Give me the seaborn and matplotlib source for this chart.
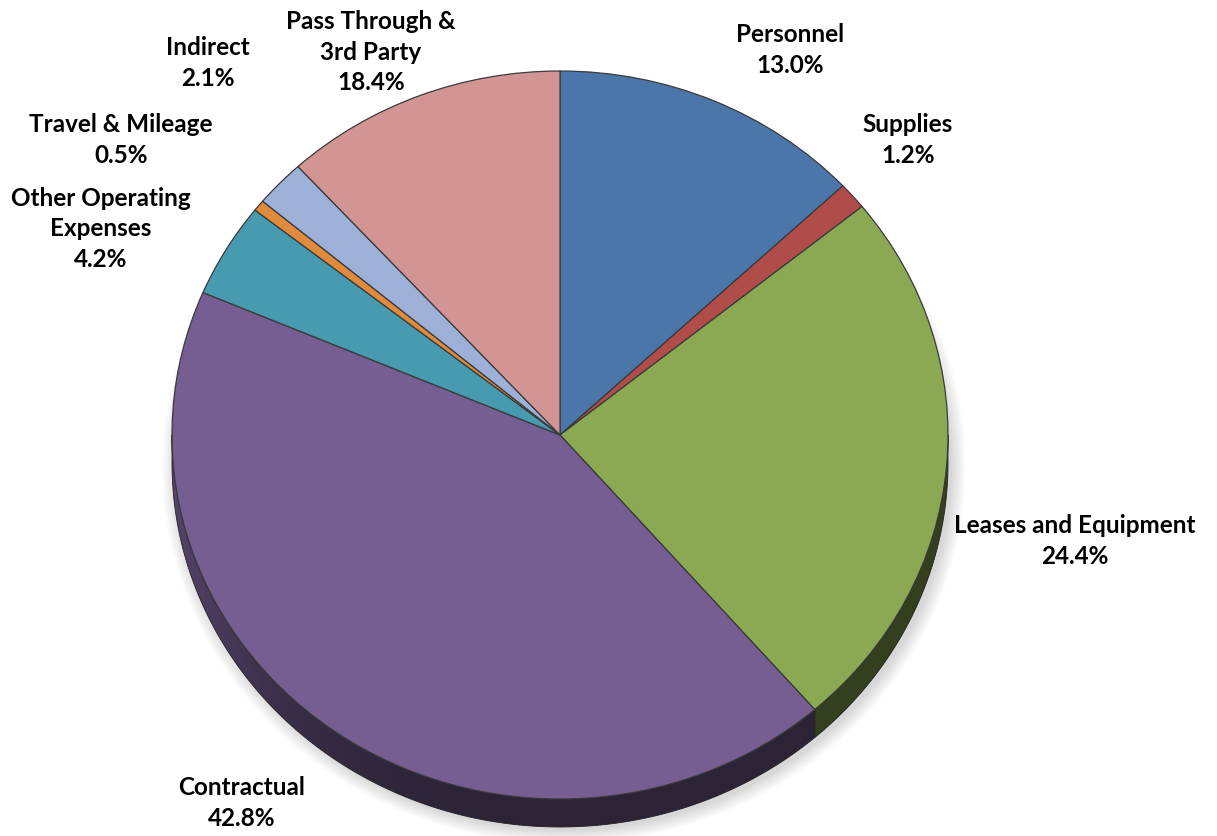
import numpy as np
from matplotlib import pyplot as plt
from matplotlib.patches import Ellipse, Polygon
import matplotlib.colors as mcolors
import seaborn as sns

categories = ["Personnel", "Supplies", "Leases and Equipment", "Contractual",
              "Other Operating\nExpenses", "Travel & Mileage", "Indirect",
              "Pass Through &\n3rd Party"]
shares = [13.0, 1.2, 24.4, 42.8, 4.2, 0.5, 2.1, 11.8]
pct_labels = ["13.0%", "1.2%", "24.4%", "42.8%", "4.2%", "0.5%", "2.1%", "18.4%"]
slice_colors = ["#4A76A9", "#B04C4A", "#8BA853", "#765D92",
                "#479BB0", "#E08A3D", "#9DB0D8", "#D39594"]

W, H = 1217, 837
CX, CY = 560, 436          # pie centre in pixels (from top)
RX, RY = 388, 364          # tilted pie radii in pixels
DEPTH = 28 / RY            # thickness of the pie wall (data units)

# label block centres, figure pixels from top-left
label_xy = [(790, 50), (908, 140), (1075, 541), (242, 803),
            (101, 229), (121, 140), (208, 63), (371, 52)]


def shade_factor(theta):
    # lighter wall on the left, darker at the front/right
    return 0.38 + 0.34 * np.clip(-np.cos(np.radians(theta)), 0, None) ** 3


sns.set_theme(style="white")
plt.rcParams['font.family'] = ['Lato', 'DejaVu Sans']

palette = sns.color_palette(slice_colors)

fig = plt.figure(figsize=(W / 100, H / 100), dpi=100)
ax = fig.add_axes([0, 0, 1, 1])

# soft shadow under the pie
for k in range(8):
    ax.add_patch(Ellipse((0.01, -DEPTH - 0.01), 2 + 0.01 * k, 2 + 0.01 * k,
                         facecolor="#000000", alpha=0.02, lw=0, zorder=0))

# side wall of the front half, shaded with a horizontal gradient
cum = np.concatenate([[0], np.cumsum(shares)]) / np.sum(shares)
for i, col in enumerate(palette):
    t1 = 90 - 360 * cum[i]
    t2 = 90 - 360 * cum[i + 1]
    lo, hi = max(t2, -180), min(t1, 0)
    if lo >= hi:
        continue
    th = np.radians(np.linspace(lo, hi, 200))
    top = np.column_stack([np.cos(th), np.sin(th)])
    bot = np.column_stack([np.cos(th), np.sin(th) - DEPTH])[::-1]
    poly = Polygon(np.vstack([top, bot]), closed=True, facecolor="none",
                   edgecolor="#222222", lw=0.6, zorder=2)
    ax.add_patch(poly)

    xmin, xmax = np.cos(th).min(), np.cos(th).max()
    ymin, ymax = (np.sin(th) - DEPTH).min(), np.sin(th).max()
    xs = np.linspace(xmin, xmax, 400)
    thetas = -np.degrees(np.arccos(np.clip(xs, -1, 1)))
    rgb = np.array(mcolors.to_rgb(col))
    img = (shade_factor(thetas)[:, None] * rgb[None, :])[None, :, :]
    im = ax.imshow(img, extent=[xmin, xmax, ymin, ymax], aspect="auto",
                   interpolation="bilinear", origin="lower", zorder=1)
    im.set_clip_path(poly)

wedges, _ = ax.pie(shares, colors=palette, startangle=90, counterclock=False,
                   radius=1.0, wedgeprops=dict(edgecolor="#3A3A3A", linewidth=0.9))
for w in wedges:
    w.set_zorder(3)

ax.set_aspect('auto')
ax.set_xlim(-CX / RX, (W - CX) / RX)
ax.set_ylim(-(H - CY) / RY, CY / RY)
ax.axis('off')

for name, pct, (px, py) in zip(categories, pct_labels, label_xy):
    fig.text(px / W, 1 - py / H, name + "\n" + pct, ha="center", va="center",
             multialignment="center", fontsize=17.5, fontweight="bold",
             color="#000000", linespacing=1.38)

fig.savefig("out.png", dpi=100)
plt.close(fig)
